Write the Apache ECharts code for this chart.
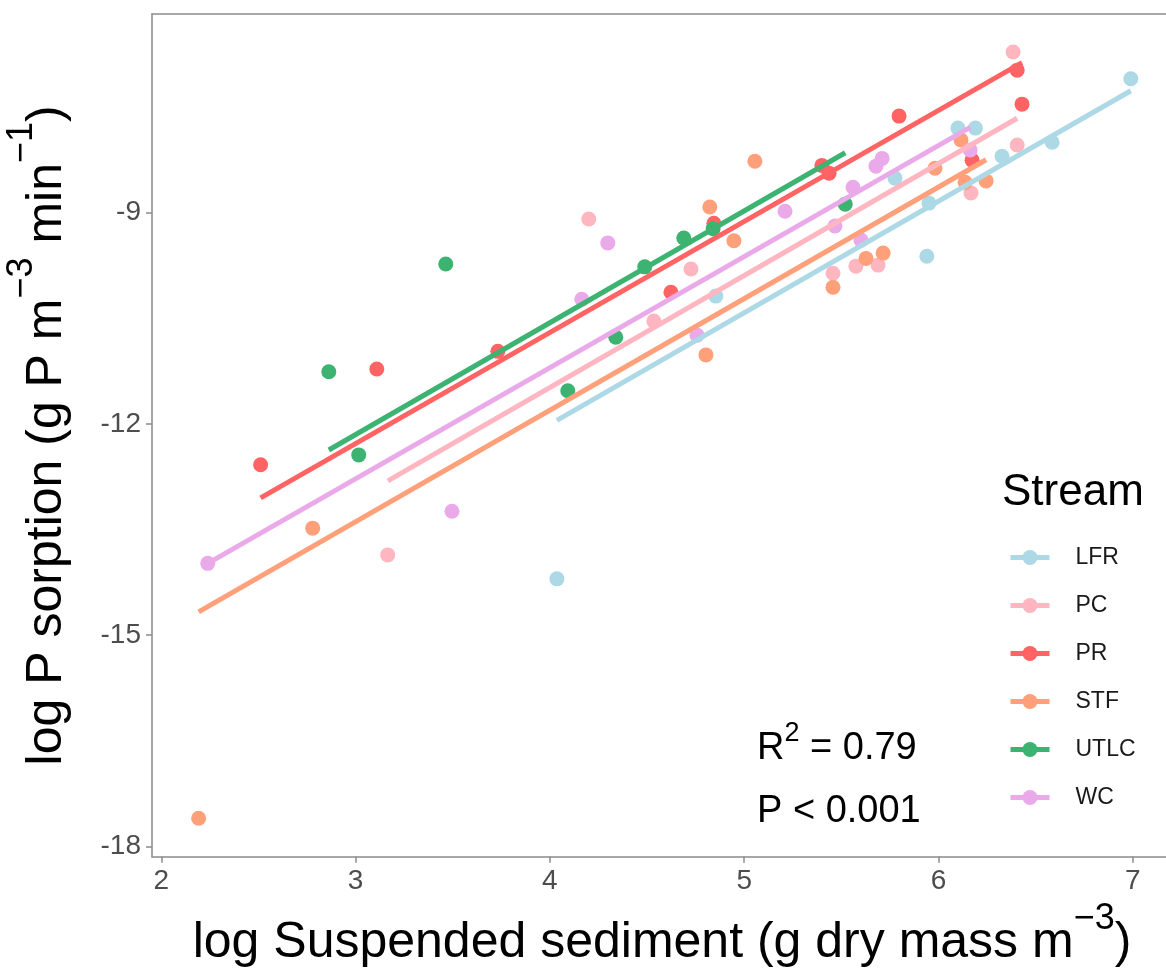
<!DOCTYPE html>
<html><head><meta charset="utf-8">
<script src="https://cdn.jsdelivr.net/npm/echarts@6/dist/echarts.min.js"></script>
<style>html,body{margin:0;padding:0;background:#fff}#c{width:1166px;height:969px}</style>
</head><body><div id="c"></div>
<script>
const streams = ['LFR', 'PC', 'PR', 'STF', 'UTLC', 'WC'];
const streamColors = ['#ADD8E6', '#FFB6C1', '#FF6363', '#FFA07A', '#3CB371', '#EAAAEA'];

const ptsLFR = [[6.99,-7.10],[6.10,-7.80],[6.19,-7.80],[6.585,-8.00],[6.327,-8.20],[5.776,-8.51],[5.951,-8.865],[5.94,-9.62],[4.854,-10.185],[4.036,-14.20]];
const ptsPC = [[6.384,-6.72],[6.405,-8.04],[6.167,-8.72],[4.20,-9.09],[4.726,-9.80],[4.535,-10.54],[3.165,-13.86],[5.457,-9.86],[5.575,-9.76],[5.689,-9.745]];
const ptsPR = [[6.405,-6.977],[6.43,-7.46],[5.797,-7.63],[5.40,-8.33],[5.437,-8.44],[6.173,-8.255],[4.844,-9.15],[4.623,-10.13],[3.732,-10.97],[3.109,-11.22],[2.511,-12.58]];
const ptsSTF = [[2.192,-17.60],[2.779,-13.48],[5.055,-8.27],[4.823,-8.92],[4.947,-9.40],[4.803,-11.02],[5.457,-10.06],[5.627,-9.65],[5.715,-9.575],[5.982,-8.37],[6.116,-7.97],[6.137,-8.57],[6.245,-8.55]];
const ptsUTLC = [[3.464,-9.73],[2.862,-11.26],[3.016,-12.44],[4.092,-11.53],[4.339,-10.77],[4.488,-9.77],[4.689,-9.36],[4.84,-9.23],[5.52,-8.88]];
const ptsWC = [[2.239,-13.98],[3.496,-13.24],[4.164,-10.23],[4.298,-9.43],[5.21,-8.98],[5.467,-9.19],[5.56,-8.64],[5.678,-8.34],[5.71,-8.23],[6.163,-8.11],[4.757,-10.74],[5.601,-9.39]];

const fitLFR = [[4.036,-11.95],[6.99,-7.27]];
const fitPC = [[3.166,-12.81],[6.405,-7.66]];
const fitPR = [[2.511,-13.05],[6.43,-6.87]];
const fitSTF = [[2.192,-14.67],[6.245,-8.25]];
const fitUTLC = [[2.862,-12.37],[5.52,-8.15]];
const fitWC = [[2.239,-13.98],[6.163,-7.79]];

const xTicks = [2, 3, 4, 5, 6, 7];
const yTicks = [-18, -15, -12, -9];
const xRange = [1.952, 7.171];
const yRange = [-18.145, -6.18];

const points = [ptsLFR, ptsPC, ptsPR, ptsSTF, ptsUTLC, ptsWC];
const fits = [fitLFR, fitPC, fitPR, fitSTF, fitUTLC, fitWC];

const FONT = 'Liberation Sans, Arial, Helvetica, sans-serif';
const AXIS_COLOR = '#8a8a8a';

const lineSeries = streams.map((s, i) => ({
  name: s, type: 'line', data: fits[i], symbol: 'circle', symbolSize: 15, showSymbol: false,
  lineStyle: { width: 5, color: streamColors[i] }, itemStyle: { color: streamColors[i] },
  z: 4, silent: true, animation: false
}));
const scatterSeries = streams.map((s, i) => ({
  name: s, type: 'scatter', data: points[i], symbol: 'circle', symbolSize: 15,
  itemStyle: { color: streamColors[i], opacity: 1 }, z: 3, silent: true, animation: false
}));

const titleRich = {
  a: { fontFamily: FONT, fontSize: 50, color: '#000' },
  s: { fontFamily: FONT, fontSize: 36, color: '#000', padding: [0, 0, 50, 0] }
};

const chart = echarts.init(document.getElementById('c'), null, { renderer: 'canvas' });
chart.setOption({
  backgroundColor: '#fff',
  animation: false,
  textStyle: { fontFamily: FONT },
  grid: { left: 152, right: 0, top: 14, bottom: 112.3, containLabel: false, outerBoundsMode: 'none' },
  title: {
    text: 'Stream', left: 1002, top: 471, padding: 0,
    textStyle: { fontFamily: FONT, fontSize: 44, fontWeight: 'normal', color: '#000' }
  },
  legend: {
    data: streams, orient: 'vertical', left: 1008, top: 546, padding: 0,
    itemWidth: 39, itemHeight: 19, itemGap: 25, selectedMode: false,
    lineStyle: { width: 5 },
    textStyle: { fontFamily: FONT, fontSize: 23, color: '#1a1a1a', padding: [0, 0, 0, 21] }
  },
  xAxis: [{
    type: 'value', min: xRange[0], max: xRange[1], position: 'bottom',
    name: '{a|log Suspended sediment (g dry mass m}{s|\u22123}{a|)}',
    nameLocation: 'middle', nameGap: 35,
    nameTextStyle: { rich: titleRich, padding: [0, 0, 0, 6] },
    splitLine: { show: false },
    axisLine: { show: true, onZero: false, lineStyle: { color: AXIS_COLOR, width: 1.5 } },
    axisTick: { show: true, length: 6, customValues: xTicks, lineStyle: { color: AXIS_COLOR, width: 1.5 } },
    axisLabel: { customValues: xTicks, margin: 11, fontFamily: FONT, fontSize: 28, color: '#4d4d4d' }
  }, {
    type: 'value', min: xRange[0], max: xRange[1], position: 'top',
    axisLine: { show: true, onZero: false, lineStyle: { color: AXIS_COLOR, width: 1.5 } },
    axisTick: { show: false }, axisLabel: { show: false }, splitLine: { show: false }
  }],
  yAxis: {
    type: 'value', min: yRange[0], max: yRange[1],
    name: '{a|log P sorption (g P m}{s|\u22123}{a| min}{s|\u22121}{a|)}',
    nameLocation: 'middle', nameGap: 62, nameRotate: 90,
    nameTextStyle: { rich: titleRich },
    splitLine: { show: false },
    axisLine: { show: true, onZero: false, lineStyle: { color: AXIS_COLOR, width: 1.5 } },
    axisTick: { show: true, length: 6, customValues: yTicks, lineStyle: { color: AXIS_COLOR, width: 1.5 } },
    axisLabel: { customValues: yTicks, margin: 11, fontFamily: FONT, fontSize: 28, color: '#4d4d4d' }
  },
  graphic: [{
    type: 'text', left: 757, top: 720,
    style: {
      text: '{a|R}{s|2}{a| = 0.79}',
      rich: {
        a: { fontFamily: FONT, fontSize: 38, fill: '#000' },
        s: { fontFamily: FONT, fontSize: 27, fill: '#000', padding: [0, 0, 30, 0] }
      }
    }
  }, {
    type: 'text', left: 757, top: 793,
    style: { text: 'P < 0.001', fontFamily: FONT, fontSize: 38, fill: '#000' }
  }],
  series: lineSeries.concat(scatterSeries)
});
</script>
</body></html>
